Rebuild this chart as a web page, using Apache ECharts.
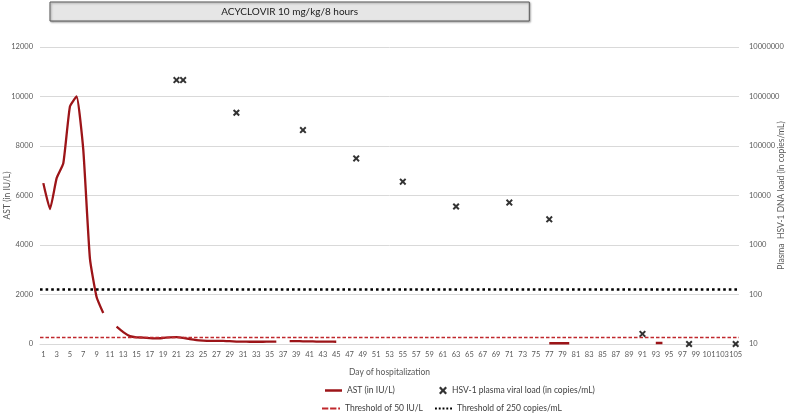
<!DOCTYPE html>
<html>
<head>
<meta charset="utf-8">
<script src="https://cdn.jsdelivr.net/npm/echarts@6/dist/echarts.min.js"></script>
<style>
html,body{margin:0;padding:0;background:#fff;}
#chart{width:794px;height:415px;}
</style>
</head>
<body>
<div id="chart"></div>
<script>
// ---- data ----
var days = [];
for (var d = 1; d <= 105; d++) days.push(String(d));

// AST (IU/L) per day, null = not measured
var astValues = [
  6500, 5450, 6700, 7300, 9600, 10000, 7850, 3450, 1900, 1250,
  null, 700, 480, 320, 270, 260, 240, 225, 245, 270,
  280, 250, 200, 160, 140, 130, 130, 130, 115, 100,
  95, 90, 90, 90, 95, 100, null, 120, 115, 110,
  105, 100, 95, 95, 90, null, null, null, null, null,
  null, null, null, null, null, null, null, null, null, null,
  null, null, null, null, null, null, null, null, null, null,
  null, null, null, null, null, null, 30, 30, 30, 30,
  null, null, null, null, null, null, null, null, null, null,
  null, null, 40, 40, null, null, null, null, null, null,
  null, null, null, null, null
];

var viralDays   = ['21', '22', '30', '40', '48', '55', '63', '71', '77', '91', '98', '105'];
var viralValues = [2150000, 2150000, 470000, 210000, 56000, 19000, 6000, 7200, 3300, 16, 10, 10];

var astTicks = { min: 0, max: 12000, interval: 2000 };
var viralTicks = { min: 10, max: 10000000 };

var thresholdAST = 280;       // drawn position of "Threshold of 50 IU/L" line (left axis)
var thresholdViral = 2230;    // drawn position of "Threshold of 250 copies/mL" line (left axis)

var bannerText = 'ACYCLOVIR 10 mg/kg/8 hours';
var bannerStartDay = '2';
var bannerEndDay = '74';

// ---- chart ----
var FONT = 'Lato, "Open Sans", sans-serif';
var xSymbol = 'path://M0,2 L2,0 L5,3 L8,0 L10,2 L7,5 L10,8 L8,10 L5,7 L2,10 L0,8 L3,5 Z';
var dashIcon = 'path://M0,0h7v2h-7z M9,0h7v2h-7z M18,0h2v2h-2z';
var dotIcon = 'path://M0,0h2v2h-2z M4,0h2v2h-2z M8,0h2v2h-2z M12,0h2v2h-2z M16,0h2v2h-2z';

var chart = echarts.init(document.getElementById('chart'), null, { renderer: 'canvas' });

var legendText = { fontFamily: FONT, fontSize: 8.5, color: '#404040' };
var plainNum = function (v) { return String(v); };

var option = {
  animation: false,
  textStyle: { fontFamily: FONT },
  grid: { left: 40, right: 55, top: 47, bottom: 71, containLabel: false, outerBoundsMode: 'none' },
  legend: [
    { data: [{ name: 'AST (in IU/L)', icon: 'rect' }], left: 325, top: 386, padding: 0, itemWidth: 17, itemHeight: 2.5, textStyle: legendText, selectedMode: false },
    { data: [{ name: 'HSV-1 plasma viral load (in copies/mL)', icon: xSymbol }], left: 439, top: 386, padding: 0, itemWidth: 8, itemHeight: 8, textStyle: legendText, selectedMode: false },
    { data: [{ name: 'Threshold of 50 IU/L', icon: dashIcon }], left: 322, top: 404, padding: 0, itemWidth: 18, itemHeight: 2.5, itemGap: 0, textStyle: legendText, selectedMode: false },
    { data: [{ name: 'Threshold of 250 copies/mL', icon: dotIcon }], left: 435, top: 404, padding: 0, itemWidth: 17, itemHeight: 2.5, textStyle: legendText, selectedMode: false }
  ],
  xAxis: {
    type: 'category',
    data: days,
    boundaryGap: true,
    name: 'Day of hospitalization',
    nameLocation: 'middle',
    nameGap: 24,
    nameMoveOverlap: false,
    nameTextStyle: { fontSize: 8.5, color: '#595959', fontFamily: FONT },
    axisLine: { lineStyle: { color: '#d9d9d9', width: 1 } },
    axisTick: { show: false },
    axisLabel: { interval: 1, hideOverlap: false, fontSize: 7.5, color: '#595959', margin: 7, fontFamily: FONT }
  },
  yAxis: [
    {
      type: 'value',
      min: astTicks.min, max: astTicks.max, interval: astTicks.interval,
      name: 'AST (in IU/L)',
      nameLocation: 'middle',
      nameGap: 28,
      nameMoveOverlap: false,
      nameTextStyle: { fontSize: 8.5, color: '#595959', fontFamily: FONT },
      axisLine: { show: false },
      axisTick: { show: false },
      axisLabel: { fontSize: 7.5, color: '#595959', margin: 7, fontFamily: FONT, formatter: plainNum },
      splitLine: { lineStyle: { color: '#d9d9d9', width: 1 } }
    },
    {
      type: 'log',
      logBase: 10,
      min: viralTicks.min, max: viralTicks.max,
      position: 'right',
      name: 'Plasma  HSV-1 DNA load (in copies/mL)',
      nameLocation: 'middle',
      nameGap: 38,
      nameMoveOverlap: false,
      nameTextStyle: { fontSize: 8.5, color: '#595959', fontFamily: FONT },
      axisLine: { show: false },
      axisTick: { show: false },
      axisLabel: { fontSize: 7.5, color: '#595959', margin: 10, fontFamily: FONT, formatter: plainNum },
      splitLine: { show: false }
    }
  ],
  series: [
    {
      name: 'Threshold of 50 IU/L',
      type: 'line',
      yAxisIndex: 0,
      data: [],
      symbol: 'none',
      lineStyle: { color: '#c0282d', width: 1.3, type: [4, 2] },
      itemStyle: { color: '#c0282d' },
      markLine: {
        silent: true,
        symbol: 'none',
        label: { show: false },
        lineStyle: { color: '#c0282d', width: 1.3, type: [3.5, 2] },
        data: [{ yAxis: thresholdAST }]
      },
      z: 1
    },
    {
      name: 'Threshold of 250 copies/mL',
      type: 'line',
      yAxisIndex: 0,
      data: [],
      symbol: 'none',
      lineStyle: { color: '#000000', width: 2.5, type: [2.5, 3] },
      itemStyle: { color: '#000000' },
      markLine: {
        silent: true,
        symbol: 'none',
        label: { show: false },
        lineStyle: { color: '#000000', width: 2.6, type: [2.6, 3] },
        data: [{ yAxis: thresholdViral }]
      },
      z: 1
    },
    {
      name: 'AST (in IU/L)',
      type: 'line',
      yAxisIndex: 0,
      data: astValues,
      connectNulls: false,
      symbol: 'none',
      smooth: 0.15,
      lineStyle: { color: '#9c1418', width: 2.3 },
      itemStyle: { color: '#9c1418' },
      z: 3
    },
    {
      name: 'HSV-1 plasma viral load (in copies/mL)',
      type: 'scatter',
      yAxisIndex: 1,
      data: viralDays.map(function (d, i) { return [d, viralValues[i]]; }),
      symbol: xSymbol,
      symbolSize: 7,
      itemStyle: { color: '#000000' },
      z: 4
    }
  ]
};

chart.setOption(option);

// Banner above the plot, positioned from its start/end days via the x axis
var x0 = chart.convertToPixel({ xAxisIndex: 0 }, bannerStartDay);
var x1 = chart.convertToPixel({ xAxisIndex: 0 }, bannerEndDay);
chart.setOption({
  graphic: [
    {
      type: 'rect',
      shape: { x: x0, y: 2, width: x1 - x0, height: 19 },
      style: { fill: '#e6e6e6', stroke: '#595959', lineWidth: 1, shadowBlur: 2, shadowColor: 'rgba(0,0,0,0.35)', shadowOffsetX: 1, shadowOffsetY: 1 },
      z: 10
    },
    {
      type: 'text',
      x: (x0 + x1) / 2,
      y: 11.5,
      style: { text: bannerText, fontFamily: FONT, fontSize: 10, fill: '#1a1a1a', align: 'center', verticalAlign: 'middle' },
      z: 11
    }
  ]
});
</script>
</body>
</html>
